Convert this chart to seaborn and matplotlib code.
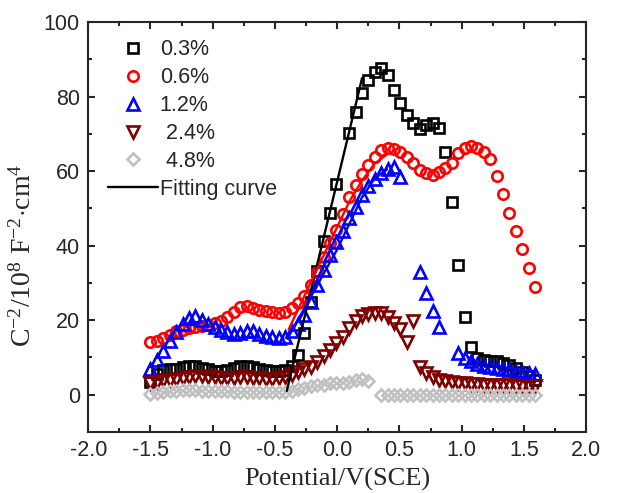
import numpy as np
import seaborn as sns
import matplotlib.pyplot as plt

nan = np.nan

# potential sweep (V vs SCE), shared by all samples
potential = np.linspace(-1.5, 1.59, 61)

c_03 = [3.5, 5.5, 6.5, 6.8, 7.0, 7.3, 7.6, 7.6, 7.2, 6.8,
        6.4, 6.3, 6.6, 7.2, 7.7, 7.8, 7.5, 7.0, 6.6, 6.4,
        6.4, 6.6, 7.6, 10.7, 16.6, 24.8, 33.2, 41.2, 48.8, 56.5,
        nan, 70.2, 76.0, 81.0, 84.5, 86.7, 87.8, 85.8, 81.8, 78.2,
        75.0, 72.8, 71.2, 72.4, 73.0, 71.5, 65.2, 51.6, 34.9, 20.9,
        12.8, 9.8, 9.3, 9.0, 8.9, 8.6, 8.0, 7.2, 6.2, 5.0, 3.8]
c_06 = [14.2, 14.5, 15.2, 16.1, 17.0, 17.4, 17.8, 18.1, 18.4, 18.8,
        19.1, 19.8, 20.9, 22.2, 23.5, 23.7, 23.2, 22.8, 22.5, 22.1,
        22.0, 22.3, 23.2, 24.6, 26.6, 29.5, 33.0, 37.0, 40.8, 44.2,
        48.5, 53.0, 56.3, 59.2, 61.7, 63.9, 65.7, 66.1, 65.9, 65.2,
        63.9, 62.1, 60.3, 59.4, 59.0, 59.9, 60.8, 62.1, 64.8, 66.1,
        66.8, 66.1, 65.2, 63.2, 58.7, 53.8, 48.7, 43.8, 39.0, 34.0, 29.0]
c_12 = [6.8, 9.3, 11.6, 14.3, 16.8, 19.0, 20.7, 21.0, 20.1, 18.9,
        18.1, 17.4, 16.9, 16.2, 16.5, 17.0, 17.0, 16.2, 15.7, 15.5,
        15.3, 15.5, 17.0, 19.0, 21.4, 25.0, 29.5, 33.5, 37.5, 41.0,
        44.0, 47.5, 50.5, 53.5, 56.0, 58.0, 59.5, 60.5, 61.0, 58.5,
        nan, nan, 33.0, 27.4, 22.5, 18.1, nan, nan, 11.2, 9.9,
        8.9, 8.3, 7.8, 7.4, 7.1, 6.9, 6.5, 6.2, 6.0, 5.8, 5.6]
c_24 = [3.0, 3.5, 3.8, 4.0, 4.3, 4.5, 4.8, 5.0, 5.0, 4.8,
        4.6, 4.5, 4.4, 4.5, 4.6, 4.6, 4.5, 4.4, 4.3, 4.3,
        4.5, 4.6, 5.2, 6.0, 6.8, 7.5, 8.7, 10.3, 12.0, 13.9,
        15.5, 17.8, 19.8, 21.0, 21.7, 22.0, 21.8, 20.8, 19.3, 17.5,
        14.0, 19.7, 7.3, 5.8, 4.7, 4.0, 3.6, 3.3, 3.1, 3.0,
        2.9, 2.8, 2.7, 2.6, 2.6, 2.5, 2.5, 2.4, 2.4, 2.3, 2.3]
c_48 = [0.2, 0.5, 0.8, 1.0, 1.1, 1.2, 1.2, 1.2, 1.1, 1.0,
        1.0, 0.9, 0.9, 0.8, 0.8, 0.8, 0.7, 0.7, 0.6, 0.6,
        0.6, 0.8, 1.0, 1.4, 1.8, 2.2, 2.5, 2.7, 3.0, 3.1,
        3.2, 3.5, 3.9, 4.2, 3.6, nan, 0.0, 0.0, 0.0, 0.0,
        0.0, 0.0, 0.0, 0.0, 0.0, 0.0, 0.0, 0.0, 0.0, 0.0,
        0.0, 0.0, 0.0, 0.0, 0.0, 0.0, 0.0, 0.0, 0.0, 0.0, 0.0]

# fitting curves
fit_03_x = [-0.405, 0.2]
fit_03_y = [1.0, 85.0]
fit_06_x = [-0.39, -0.2, 0.0, 0.1, 0.2, 0.3, 0.4]
fit_06_y = [17.5, 31.0, 45.0, 52.0, 57.5, 62.0, 64.5]
fit_12_x = [-0.40, -0.2, 0.0, 0.1, 0.2, 0.3, 0.4]
fit_12_y = [15.0, 27.0, 39.0, 46.0, 53.0, 58.0, 60.5]

labels = ["0.3%", "0.6%", "1.2%", " 2.4%", " 4.8%"]

sns.set_style("ticks")
plt.rcParams["font.family"] = ["Liberation Sans", "DejaVu Sans"]
plt.rcParams["mathtext.fontset"] = "custom"
plt.rcParams["mathtext.rm"] = "Liberation Serif"
plt.rcParams["mathtext.it"] = "Liberation Serif:italic"

fig, ax = plt.subplots(figsize=(6.17, 4.93), dpi=100)
fig.subplots_adjust(left=0.143, right=0.950, top=0.955, bottom=0.124)

series = [
    (c_03, "s", "#000000", 6.5),
    (c_06, "o", "#ff0000", 7.5),
    (c_12, "^", "#0000ff", 8.0),
    (c_24, "v", "#800000", 8.0),
    (c_48, "D", "#c0c0c0", 6.5),
]
for (vals, mk, col, ms), lab in zip(series, labels):
    sns.lineplot(x=potential, y=vals, ax=ax, estimator=None, sort=False,
                 linestyle="none", marker=mk, markersize=ms,
                 markerfacecolor="none", markeredgecolor=col,
                 markeredgewidth=1.9, label=lab)

sns.lineplot(x=fit_03_x, y=fit_03_y, ax=ax, color="black", lw=1.7,
             estimator=None, sort=False, label="Fitting curve")
sns.lineplot(x=fit_06_x, y=fit_06_y, ax=ax, color="#ff0000", lw=1.7,
             estimator=None, sort=False)
sns.lineplot(x=fit_12_x, y=fit_12_y, ax=ax, color="#0000ff", lw=1.7,
             estimator=None, sort=False)

ax.set_xlim(-2.0, 2.0)
ax.set_ylim(-10, 100)
ax.set_xticks(np.arange(-2.0, 2.01, 0.5))
ax.set_xticks(np.arange(-1.75, 2.0, 0.5), minor=True)
ax.set_yticks(np.arange(0, 101, 20))
ax.set_yticks(np.arange(10, 100, 20), minor=True)
ax.xaxis.set_major_formatter(plt.FormatStrFormatter("%.1f"))

for s in ax.spines.values():
    s.set_linewidth(1.5)
ax.tick_params(which="both", direction="in", top=True, right=True,
               width=1.5, labelsize=15.5, pad=6)
ax.tick_params(which="major", length=5)
ax.tick_params(which="minor", length=3)

ax.set_xlabel("Potential/V(SCE)", family="Liberation Serif", fontsize=19, labelpad=5)
ax.set_ylabel(r"C$^{-2}$/10$^{8}$ F$^{-2}$$\cdot$cm$^{4}$",
              family="Liberation Serif", fontsize=20)
ax.yaxis.set_label_coords(-0.104, 0.43)

ax.legend(loc="upper left", bbox_to_anchor=(0.04, 0.958), frameon=False,
          fontsize=15.5, handlelength=2.3, handletextpad=0.1,
          labelspacing=0.32, borderaxespad=0, borderpad=0)

plt.savefig("out.png", dpi=100)
plt.close()
